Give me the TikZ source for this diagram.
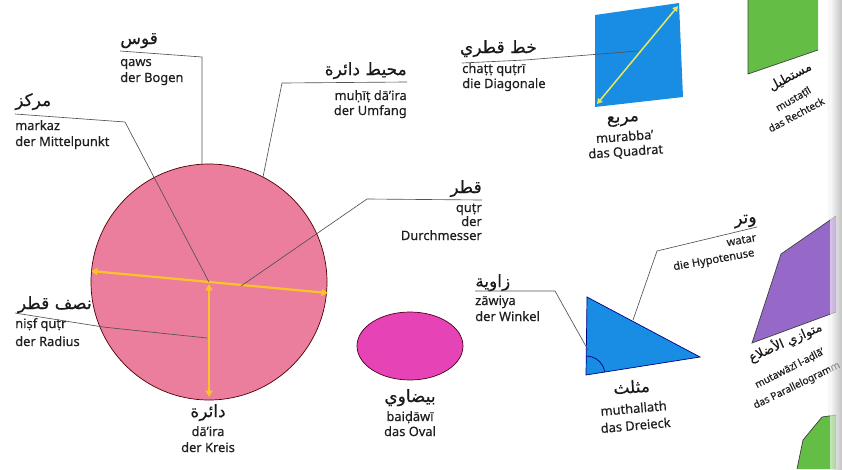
\documentclass[tikz,border=0pt]{standalone}
\usepackage{fontspec}
\setmainfont{Noto Sans}
\newfontfamily\latfont{Noto Sans}[FakeBold=0.35]
\newfontfamily\arabicfont[Script=Arabic,FakeBold=0.3]{DejaVu Sans}
\TeXXeTstate=1
\usetikzlibrary{arrows.meta}
\definecolor{cpink}{RGB}{234,126,156}
\definecolor{coval}{RGB}{230,68,182}
\definecolor{cblue}{RGB}{25,140,228}
\definecolor{cgreen}{RGB}{100,190,70}
\definecolor{cpurple}{RGB}{150,105,200}
\definecolor{ayellow}{RGB}{250,196,40}
\definecolor{dyellow}{RGB}{228,232,90}
\definecolor{cline}{RGB}{85,80,80}
\begin{document}
\begin{tikzpicture}[x=0.03cm,y=-0.03cm,
  ar/.style={font=\arabicfont\fontsize{14.5}{16}\selectfont, inner sep=0pt, text=black!90},
  lat/.style={font=\latfont\fontsize{11}{13}\selectfont, inner sep=0pt, text=black!88},
  arsm/.style={font=\arabicfont\fontsize{11}{13}\selectfont},
  latsm/.style={font=\latfont\fontsize{8.6}{10}\selectfont},
  lead/.style={draw=cline, line width=0.55pt},
  yarr/.style={draw=ayellow, line width=1.9pt, {Triangle[length=5.5pt,width=6pt]}-{Triangle[length=5.5pt,width=6pt]}},
  darr/.style={draw=dyellow, line width=1.3pt, {Triangle[length=4.5pt,width=5pt]}-{Triangle[length=4.5pt,width=5pt]}},
  shapeline/.style={draw=black!75, line width=0.6pt},
]
\useasboundingbox (0,0) rectangle (842,469);
% page curl shading at right edge
\shade[left color=white, right color=black!22] (826,0) rectangle (842,469);

% ---------- circle ----------
\coordinate (C) at (209,282);
\fill[cpink] (C) circle[radius=118];
\draw[shapeline, draw=black!70!red] (C) circle[radius=118];
\coordinate (dL) at (91,271);
\coordinate (dR) at (328,293);
\coordinate (rT) at (209,284);
\coordinate (rB) at (209,397);
\draw[yarr] (dL) -- (dR);
\draw[yarr] (rT) -- (rB);

% qaws
\node[ar, anchor=base west] (qawsA) at (120,44) {\beginR قوس\endR};
\node[lat, anchor=base west] (qawsL1) at (120,66) {qaws};
\node[lat, anchor=base west] (qawsL2) at (120,82) {der Bogen};
\coordinate (qaws0) at (120,51);
\coordinate (qaws1) at (202,57);
\coordinate (qaws2) at (202,164);
\draw[lead] (qaws0) -- (qaws1) -- (qaws2);

% muhit daira
\node[ar, anchor=base east] (muhA) at (407,75) {\beginR محيط دائرة\endR};
\node[lat, anchor=base east] (muhL1) at (407,100) {muḥīṭ dā’ira};
\node[lat, anchor=base east] (muhL2) at (407,115) {der Umfang};
\coordinate (muh0) at (407,82);
\coordinate (muh1) at (282,83);
\coordinate (muh2) at (263,177);
\draw[lead] (muh0) -- (muh1) -- (muh2);

% markaz
\node[ar, anchor=base west] (marA) at (15,106) {\beginR مركز\endR};
\node[lat, anchor=base west] (marL1) at (15,130) {markaz};
\node[lat, anchor=base west] (marL2) at (15,146) {der Mittelpunkt};
\coordinate (mar0) at (15,114);
\coordinate (mar1) at (125,122);
\draw[lead] (mar0) -- (mar1) -- (C);

% qutr
\node[ar, anchor=base east] (qutA) at (482,193) {\beginR قطر\endR};
\node[lat, anchor=base east] (qutL1) at (482,212) {quṭr};
\node[lat, anchor=base east] (qutL2) at (482,226) {der};
\node[lat, anchor=base east] (qutL3) at (482,240) {Durchmesser};
\coordinate (qut0) at (482,200);
\coordinate (qut1) at (367,199);
\coordinate (qut2) at (241,286);
\draw[lead] (qut0) -- (qut1) -- (qut2);

% nisf qutr
\node[ar, anchor=base east] (nisA) at (92,309) {\beginR نصف قطر\endR};
\node[lat, anchor=base west] (nisL1) at (15,328) {niṣf quṭr};
\node[lat, anchor=base west] (nisL2) at (15,346) {der Radius};
\coordinate (nis0) at (15,313);
\coordinate (nis1) at (103,327);
\coordinate (nis2) at (207,338);
\draw[lead] (nis0) -- (nis1) -- (nis2);

% daira
\node[ar, anchor=base] (daiA) at (208,417) {\beginR دائرة\endR};
\node[lat, anchor=base] (daiL1) at (208,436) {dā’ira};
\node[lat, anchor=base] (daiL2) at (208,452) {der Kreis};

% ---------- oval ----------
\coordinate (O) at (410,346);
\fill[coval] (O) ellipse[x radius=53, y radius=34];
\draw[shapeline, draw=black!60!purple] (O) ellipse[x radius=53, y radius=34];
\node[ar, anchor=base] (ovA) at (410,402) {\beginR بيضاوي\endR};
\node[lat, anchor=base] (ovL1) at (410,421) {baiḍāwī};
\node[lat, anchor=base] (ovL2) at (410,436) {das Oval};

% ---------- square ----------
\coordinate (S1) at (595,15);
\coordinate (S2) at (679,3);
\coordinate (S3) at (683,97);
\coordinate (S4) at (595,107);
\fill[cblue] (S1) -- (S2) -- (S3) -- (S4) -- cycle;
\coordinate (sd1) at (597,104);
\coordinate (sd2) at (678,6);
\draw[darr] (sd1) -- (sd2);
\node[ar, anchor=base east] (diaA) at (537,53) {\beginR خط قطري\endR};
\node[lat, anchor=base west] (diaL1) at (462,73) {chaṭṭ quṭrī};
\node[lat, anchor=base west] (diaL2) at (462,88) {die Diagonale};
\coordinate (dia0) at (462,63);
\coordinate (dia1) at (525,60);
\coordinate (dia2) at (638,51);
\draw[lead] (dia0) -- (dia1) -- (dia2);
\node[ar, anchor=base, rotate=4] (sqA) at (623,122) {\beginR مربع\endR};
\node[lat, anchor=base, rotate=4] (sqL1) at (625,141) {murabba’};
\node[lat, anchor=base, rotate=4] (sqL2) at (626,156) {das Quadrat};

% ---------- rectangle ----------
\fill[cgreen] (748,0) -- (818,0) -- (818,50) -- (748,74) -- cycle;
\draw[shapeline] (748,0) -- (748,74) -- (818,50);
\node[ar, arsm, anchor=base, rotate=28] (recA) at (792,80) {\beginR مستطيل\endR};
\node[lat, latsm, anchor=base, rotate=30] (recL1) at (795,102) {mustaṭīl};
\node[lat, latsm, anchor=base, rotate=28] (recL2) at (798,118) {das Rechteck};

% ---------- triangle ----------
\coordinate (T1) at (587,297);
\coordinate (T2) at (586,375);
\coordinate (T3) at (700,357);
\fill[cblue] (T1) -- (T2) -- (T3) -- cycle;
\draw[shapeline, draw=black!50!blue] (T1) -- (T2) -- (T3) -- cycle;
\draw[shapeline, draw=black!50!blue] (586,356) arc[start angle=-90, end angle=-9, radius=19];
\node[ar, anchor=base, rotate=4] (triA) at (632,393) {\beginR مثلث\endR};
\node[lat, anchor=base, rotate=5] (triL1) at (634,413) {muthallath};
\node[lat, anchor=base, rotate=5] (triL2) at (636,430) {das Dreieck};

% zawiya
\node[ar, anchor=base west] (zawA) at (475,287) {\beginR زاوية\endR};
\node[lat, anchor=base west] (zawL1) at (475,305) {zāwiya};
\node[lat, anchor=base west] (zawL2) at (475,321) {der Winkel};
\coordinate (zaw0) at (475,291);
\coordinate (zaw1) at (555,291);
\coordinate (zaw2) at (588,350);
\draw[lead] (zaw0) -- (zaw1) -- (zaw2);

% watar
\node[ar, anchor=base east, rotate=6] (watA) at (757,222) {\beginR وتر\endR};
\node[lat, anchor=base east, rotate=10, font=\latfont\fontsize{9.5}{11}\selectfont] (watL1) at (757,241) {watar};
\node[lat, anchor=base east, rotate=10, font=\latfont\fontsize{9.5}{11}\selectfont] (watL2) at (755,256) {die Hypotenuse};
\coordinate (wat0) at (757,227);
\coordinate (wat1) at (657,251);
\coordinate (wat2) at (633,320);
\draw[lead] (wat0) -- (wat1) -- (wat2);

% ---------- parallelogram ----------
\coordinate (P1) at (752,343);
\coordinate (P2) at (781,254);
\coordinate (P3) at (836,216);
\coordinate (P4) at (836,312);
\fill[cpurple] (P1) -- (P2) -- (P3) -- (P4) -- cycle;
\draw[shapeline] (P4) -- (P1) -- (P2) -- (P3);
\node[ar, arsm, anchor=base, rotate=24] (parA) at (787,346) {\beginR متوازي الأضلاع\endR};
\node[lat, latsm, anchor=base, rotate=27] (parL1) at (791,371) {mutawāzī l-aḍlā’};
\node[lat, latsm, anchor=base, rotate=26] (parL2) at (798,388) {das Parallelogramm};

% ---------- bottom right green ----------
\fill[cgreen] (797,469) -- (803,440) -- (822,417) -- (836,415) -- (836,469) -- cycle;
\draw[shapeline] (797,469) -- (803,440) -- (822,417) -- (836,415);

% re-apply curl shading on the edge
\shade[left color=white, right color=black!25, opacity=0.6] (830,0) rectangle (842,469);
\end{tikzpicture}
\end{document}
